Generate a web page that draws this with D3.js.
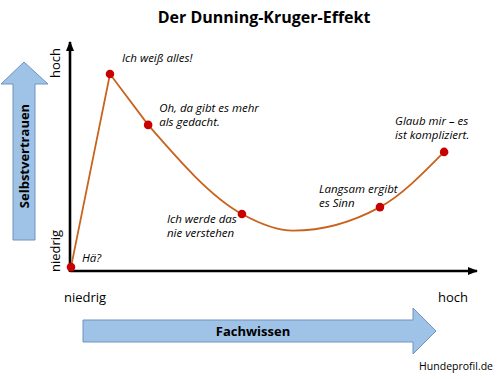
<!DOCTYPE html>
<html>
<head>
<meta charset="utf-8">
<script src="https://cdn.jsdelivr.net/npm/d3@7"></script>
<style>
  html, body { margin: 0; padding: 0; background: #fff; }
  svg { display: block; }
</style>
</head>
<body>
<svg id="chart" width="500" height="379"></svg>
<script>
// ---- data ----
const title = "Der Dunning-Kruger-Effekt";
const xAxisTitle = "Fachwissen";
const yAxisTitle = "Selbstvertrauen";
const tickLabels = ["niedrig", "hoch"];
const source = "Hundeprofil.de";

// marked stages (knowledge %, confidence %)
const stageKnowledge  = [0, 9.6, 19, 42.1, 76.1, 91.9];
const stageConfidence = [1.7, 86, 63.8, 24.9, 27.9, 52];
const stageLabels = [
  ["Hä?"],
  ["Ich weiß alles!"],
  ["Oh, da gibt es mehr", "als gedacht."],
  ["Ich werde das", "nie verstehen"],
  ["Langsam ergibt", "es Sinn"],
  ["Glaub mir – es", "ist kompliziert."]
];
// curve path (stages plus trough of the valley)
const curveKnowledge  = [0, 9.6, 19, 42.1, 54.7, 76.1, 91.9];
const curveConfidence = [1.7, 86, 63.8, 24.9, 17.6, 27.9, 52];

// ---- layout ----
const svg = d3.select("#chart");
const x = d3.scaleLinear().domain([0, 100]).range([71, 477]);
const y = d3.scaleLinear().domain([0, 100]).range([271, 42]);

const fontSans = "'Open Sans', 'Noto Sans', sans-serif";

// title
svg.append("text")
  .attr("x", 264).attr("y", 23)
  .attr("text-anchor", "middle")
  .attr("font-family", fontSans)
  .attr("font-weight", "bold")
  .attr("font-size", 16)
  .attr("fill", "#000")
  .text(title);

// axes
svg.append("defs").append("marker")
  .attr("id", "ah").attr("viewBox", "0 0 10 10")
  .attr("refX", 9).attr("refY", 5)
  .attr("markerWidth", 4).attr("markerHeight", 4)
  .attr("markerUnits", "strokeWidth")
  .attr("orient", "auto")
  .append("path").attr("d", "M0,1 L10,5 L0,9 Z").attr("fill", "#000");

svg.append("line")
  .attr("x1", x(0) - 1).attr("y1", y(0))
  .attr("x2", x(100)).attr("y2", y(0))
  .attr("stroke", "#000").attr("stroke-width", 2.6)
  .attr("marker-end", "url(#ah)");
svg.append("line")
  .attr("x1", x(0) - 1).attr("y1", y(0) + 1)
  .attr("x2", x(0) - 1).attr("y2", y(100))
  .attr("stroke", "#000").attr("stroke-width", 2.6)
  .attr("marker-end", "url(#ah)");

// tick labels (y, rotated)
svg.append("text")
  .attr("transform", `translate(60,${y(100) + 21}) rotate(-90)`)
  .attr("text-anchor", "middle")
  .attr("font-family", fontSans).attr("font-size", 13)
  .text(tickLabels[1]);
svg.append("text")
  .attr("transform", `translate(60,${y(0) - 20}) rotate(-90)`)
  .attr("text-anchor", "middle")
  .attr("font-family", fontSans).attr("font-size", 13)
  .text(tickLabels[0]);
// tick labels (x)
svg.append("text")
  .attr("x", 85).attr("y", 302)
  .attr("text-anchor", "middle")
  .attr("font-family", fontSans).attr("font-size", 13)
  .text(tickLabels[0]);
svg.append("text")
  .attr("x", 453).attr("y", 302)
  .attr("text-anchor", "middle")
  .attr("font-family", fontSans).attr("font-size", 13)
  .text(tickLabels[1]);

// big blue arrows
const arrowFill = "#9fc3e7", arrowStroke = "#6f93c0";
// horizontal
svg.append("path")
  .attr("d", "M83,320 L413,320 L413,308 L436,331 L413,354 L413,342 L83,342 Z")
  .attr("fill", arrowFill).attr("stroke", arrowStroke).attr("stroke-width", 1);
svg.append("text")
  .attr("x", 253).attr("y", 336)
  .attr("text-anchor", "middle")
  .attr("font-family", fontSans).attr("font-weight", "bold").attr("font-size", 13)
  .text(xAxisTitle);
// vertical
svg.append("path")
  .attr("d", "M13,240 L13,84 L1,84 L24,62 L48,84 L35,84 L35,240 Z")
  .attr("fill", arrowFill).attr("stroke", arrowStroke).attr("stroke-width", 1);
svg.append("text")
  .attr("transform", "translate(29,156) rotate(-90)")
  .attr("text-anchor", "middle")
  .attr("font-family", fontSans).attr("font-weight", "bold").attr("font-size", 13)
  .text(yAxisTitle);

// curve
const pts = curveKnowledge.map((k, i) => [x(k), y(curveConfidence[i])]);
const straight = d3.line().curve(d3.curveLinear)(pts.slice(0, 3));
const smooth = d3.line().curve(d3.curveMonotoneX)(pts.slice(2));
svg.append("path")
  .attr("d", straight + smooth.replace(/^M/, "L"))
  .attr("fill", "none")
  .attr("stroke", "#c8621c")
  .attr("stroke-width", 1.8);

// dots
svg.selectAll("circle.stage")
  .data(stageKnowledge)
  .join("circle")
  .attr("class", "stage")
  .attr("cx", d => x(d))
  .attr("cy", (d, i) => y(stageConfidence[i]))
  .attr("r", 4.3)
  .attr("fill", "#c80000");

// labels (offset from each stage point, px)
const labelOffsets = [[11, -5], [12, -12], [11, -13], [-75, 9], [-61, -14], [-49, -27]];
const lineGap = 14;
stageLabels.forEach((lines, i) => {
  const t = svg.append("text")
    .attr("font-family", fontSans)
    .attr("font-style", "italic")
    .attr("font-size", 11.5)
    .attr("fill", "#000");
  lines.forEach((ln, j) => {
    t.append("tspan")
      .attr("x", x(stageKnowledge[i]) + labelOffsets[i][0])
      .attr("y", y(stageConfidence[i]) + labelOffsets[i][1] + j * lineGap)
      .text(ln);
  });
});

// source
svg.append("text")
  .attr("x", 493).attr("y", 370)
  .attr("text-anchor", "end")
  .attr("font-family", fontSans).attr("font-size", 10.5)
  .text(source);
</script>
</body>
</html>
